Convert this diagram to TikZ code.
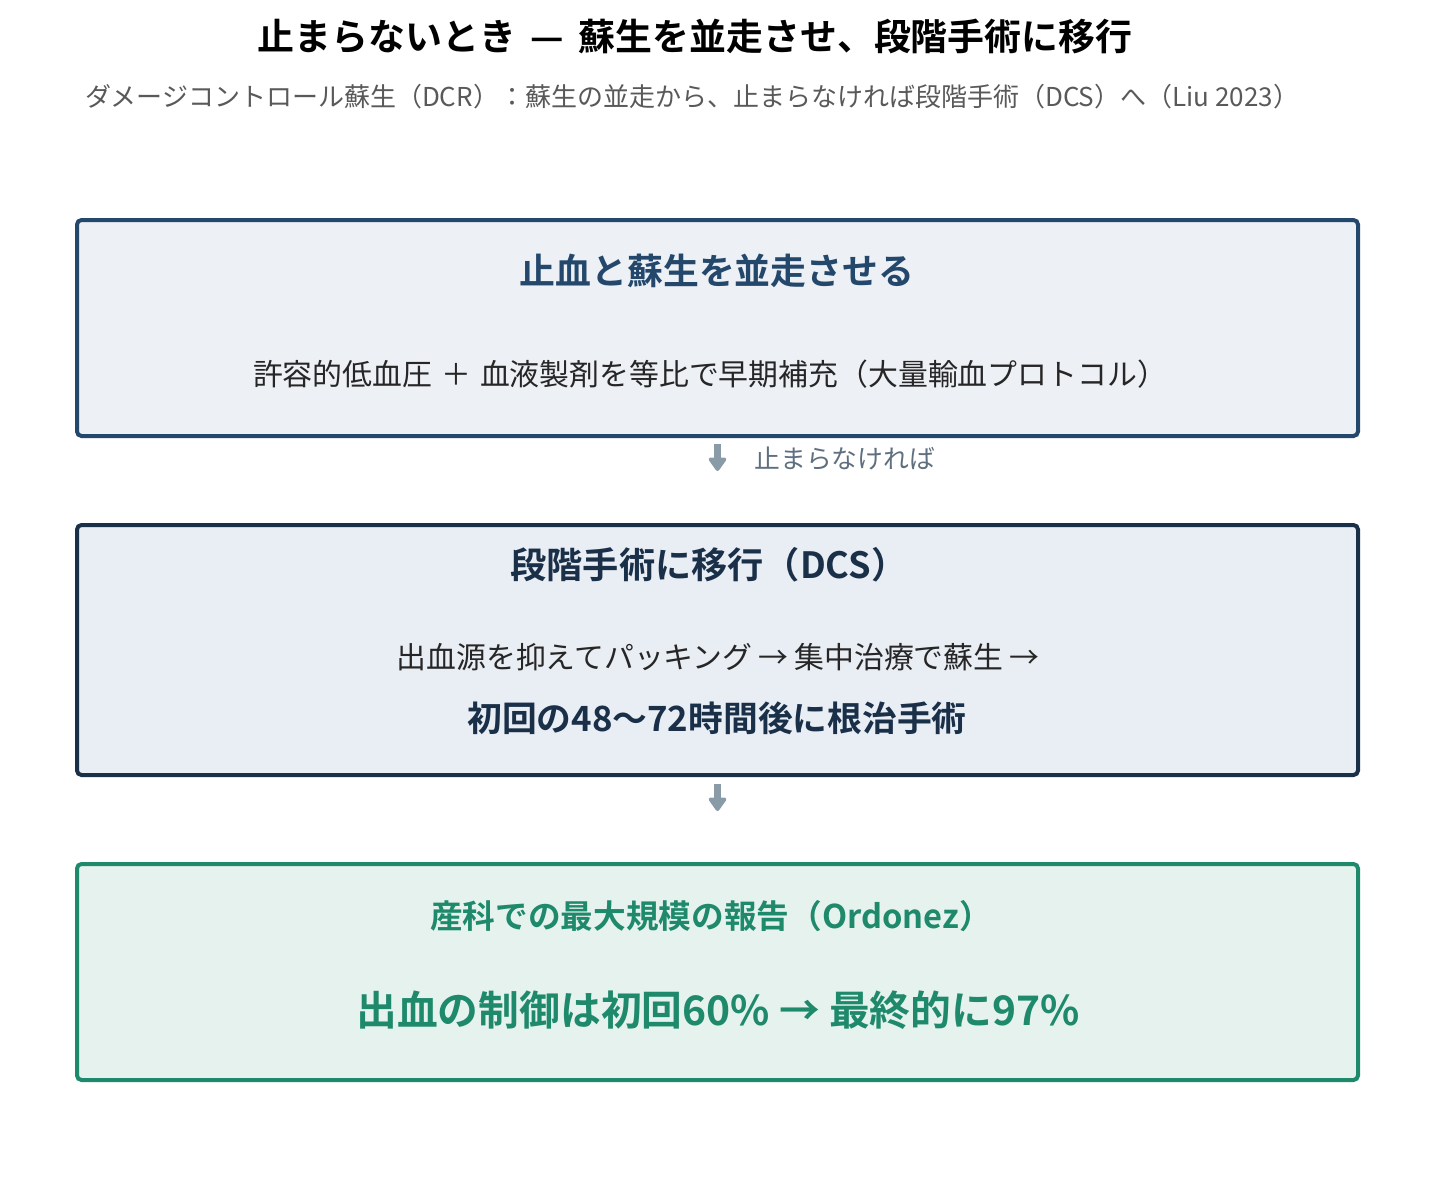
\documentclass[tikz,border=0pt]{standalone}
\usepackage{fontspec}
\setmainfont{Noto Sans CJK JP}
\newfontfamily\jpbold{Noto Sans CJK JP Bold}
\usetikzlibrary{arrows.meta}

\definecolor{dcrline}{HTML}{23486B}
\definecolor{dcrfill}{HTML}{EDF0F5}
\definecolor{dcsline}{HTML}{1A3049}
\definecolor{dcsfill}{HTML}{E9EDF4}
\definecolor{obline}{HTML}{1E8A6B}
\definecolor{obfill}{HTML}{E6F2EE}
\definecolor{flowgray}{HTML}{8A9BA8}
\definecolor{notegray}{HTML}{5F6F80}

\tikzset{
  panel/.style={draw, line width=0.8mm, rounded corners=0.9mm, minimum width=1281*0.02cm, inner sep=0pt},
  flowarrow/.style={draw=flowgray, line width=1.5mm, -{Triangle[width=4mm,length=3mm,round]}},
}

\begin{document}
\begin{tikzpicture}[x=0.02cm,y=-0.02cm]
\useasboundingbox (0,0) rectangle (1434,1201);
% heading
\node (title) at (695,36) {\fontsize{21}{25}\selectfont\jpbold 止まらないとき\hspace{0.4em}—\hspace{0.4em}蘇生を並走させ、段階手術に移行};
\node[anchor=west, text=black!65, inner sep=0pt] (subtitle) at (85,97) {\fontsize{14.8}{18}\selectfont ダメージコントロール蘇生（DCR）：蘇生の並走から、止まらなければ段階手術（DCS）へ（Liu 2023）};
% boxes
\node[panel, draw=dcrline, fill=dcrfill, minimum height=216*0.02cm] (dcr) at (717.5,328) {};
\node[panel, draw=dcsline, fill=dcsfill, minimum height=250*0.02cm] (dcs) at (717.5,650) {};
\node[panel, draw=obline, fill=obfill, minimum height=216*0.02cm] (ob) at (717.5,972) {};
% texts
\node[text=dcrline] (dcrhead) at (717,271) {\fontsize{20.4}{24}\selectfont\jpbold 止血と蘇生を並走させる};
\node[text=black!85] (dcrbody) at (710,374) {\fontsize{17}{20}\selectfont 許容的低血圧\hspace{0.3em}＋\hspace{0.3em}血液製剤を等比で早期補充（大量輸血プロトコル）};
\node[text=dcsline] (dcshead) at (709,565) {\fontsize{20.6}{24}\selectfont\jpbold 段階手術に移行（DCS）};
\node[text=black!85] (dcsbody) at (718,657) {\fontsize{17}{20}\selectfont 出血源を抑えてパッキング\hspace{0.2em}→\hspace{0.2em}集中治療で蘇生\hspace{0.2em}→};
\node[text=dcsline] (dcskey) at (717,718) {\fontsize{19.8}{24}\selectfont\jpbold 初回の48〜72時間後に根治手術};
\node[text=obline] (obhead) at (711,916) {\fontsize{18.6}{22}\selectfont\jpbold 産科での最大規模の報告（Ordonez）};
\node[text=obline] (obbody) at (718,1010) {\fontsize{23.2}{28}\selectfont\jpbold 出血の制御は初回60\% → 最終的に97\%};
% arrows
\draw[flowarrow, shorten <=6*0.02cm, shorten >=52*0.02cm] (dcr.south) -- (dcs.north);
\node[anchor=west, text=notegray, inner sep=0pt] (ifnot) at (754,459) {\fontsize{14.7}{18}\selectfont 止まらなければ};
\draw[flowarrow, shorten <=7*0.02cm, shorten >=51*0.02cm] (dcs.south) -- (ob.north);
\end{tikzpicture}
\end{document}
